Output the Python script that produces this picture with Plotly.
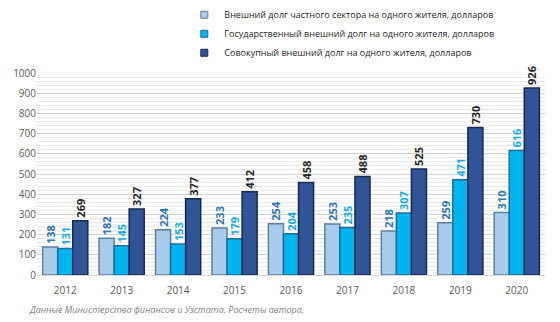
import plotly.graph_objects as go

years = ["2012", "2013", "2014", "2015", "2016", "2017", "2018", "2019", "2020"]
private_debt = [138, 182, 224, 233, 254, 253, 218, 259, 310]
state_debt = [131, 145, 153, 179, 204, 235, 307, 471, 616]
total_debt = [269, 327, 377, 412, 458, 488, 525, 730, 926]
names = [
    "Внешний долг частного сектора на одного жителя, долларов",
    "Государственный внешний долг на одного жителя, долларов",
    "Совокупный внешний долг на одного жителя, долларов",
]
source_note = "Данные Министерства финансов и Узстата. Расчеты автора."

fills = ["#a9cbec", "#00b4ef", "#2f5597"]
borders = ["#5f7f9f", "#1a6f9a", "#16284f"]
label_colors = ["#2e75b6", "#12aee8", "#262626"]

fig = go.Figure()
for vals, name, fc, bc, lc in zip([private_debt, state_debt, total_debt], names, fills, borders, label_colors):
    fig.add_trace(go.Bar(
        x=years, y=vals, name=name, showlegend=False,
        marker=dict(color=fc, line=dict(color=bc, width=1.5)),
        text=vals, textposition="outside", textangle=-90, constraintext="none",
        textfont=dict(color=lc, size=11, family="Open Sans", weight="bold"),
        cliponaxis=False,
    ))
# legend entries with small square swatches
for name, fc, bc in zip(names, fills, borders):
    fig.add_trace(go.Scatter(
        x=[None], y=[None], mode="markers", name=name,
        marker=dict(symbol="square", size=7, color=fc, line=dict(color=bc, width=1)),
    ))

fig.update_layout(
    width=560, height=322,
    margin=dict(l=37, r=15, t=73, b=47, autoexpand=False),
    paper_bgcolor="white", plot_bgcolor="white",
    barmode="group", bargap=0.2, bargroupgap=0.0,
    font=dict(family="Open Sans", color="#595959", size=10),
    showlegend=True,
    legend=dict(x=0.29, y=1.36, xanchor="left", yanchor="top",
                font=dict(size=9, color="#262626"), bgcolor="rgba(0,0,0,0)",
                itemwidth=30, tracegroupgap=0),
    xaxis=dict(showgrid=False, showline=True, linecolor="#d9d9d9", ticks="",
               ticklabelstandoff=6,
               tickfont=dict(size=10, color="#595959")),
    yaxis=dict(range=[0, 1000], dtick=100, showgrid=True, gridcolor="#d4d4d4",
               gridwidth=1, zeroline=False, ticks="",
               tickfont=dict(size=10, color="#595959"),
               minor=dict(dtick=20, showgrid=True, gridcolor="#ebebeb", gridwidth=1)),
    annotations=[dict(text=source_note, xref="paper", yref="paper",
                      x=-0.02, y=-0.173, xanchor="left", yanchor="middle", showarrow=False,
                      font=dict(size=9, color="#7f7f7f", family="Open Sans", style="italic"))],
)

fig.write_html("out.html")
